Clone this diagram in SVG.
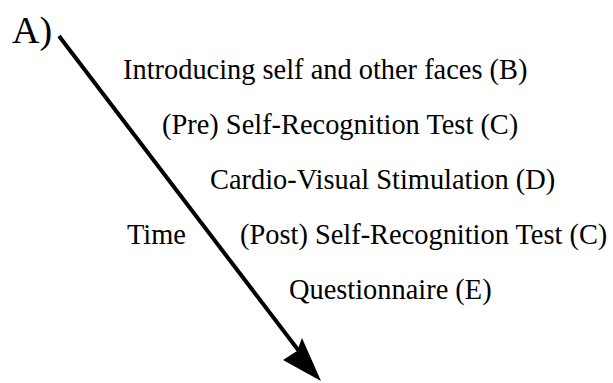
<svg xmlns="http://www.w3.org/2000/svg" width="613" height="383" viewBox="0 0 613 383">
<style>
.t{font-size:28.4px;font-family:'Liberation Serif','Times New Roman',serif;fill:#000}
.a{font-size:38px;font-family:'Liberation Serif','Times New Roman',serif;fill:#000}
</style>
<rect width="613" height="383" fill="#fff"/>
<g id="label-a"><text class="a" x="12" y="43">A)</text></g>
<g id="connectors">
<line x1="59" y1="36" x2="305" y2="359" stroke="#000" stroke-width="4"/>
<polygon points="321,381 283,360 297,351 302,338" fill="#000"/>
</g>
<g id="n1"><text class="t" x="123" y="79">Introducing self and other faces (B)</text></g>
<g id="n2"><text class="t" x="162" y="134">(Pre) Self-Recognition Test (C)</text></g>
<g id="n3"><text class="t" x="210" y="189">Cardio-Visual Stimulation (D)</text></g>
<g id="time"><text class="t" x="127" y="244">Time</text></g>
<g id="n4"><text class="t" x="240" y="244">(Post) Self-Recognition Test (C)</text></g>
<g id="n5"><text class="t" x="289" y="299">Questionnaire (E)</text></g>
</svg>
